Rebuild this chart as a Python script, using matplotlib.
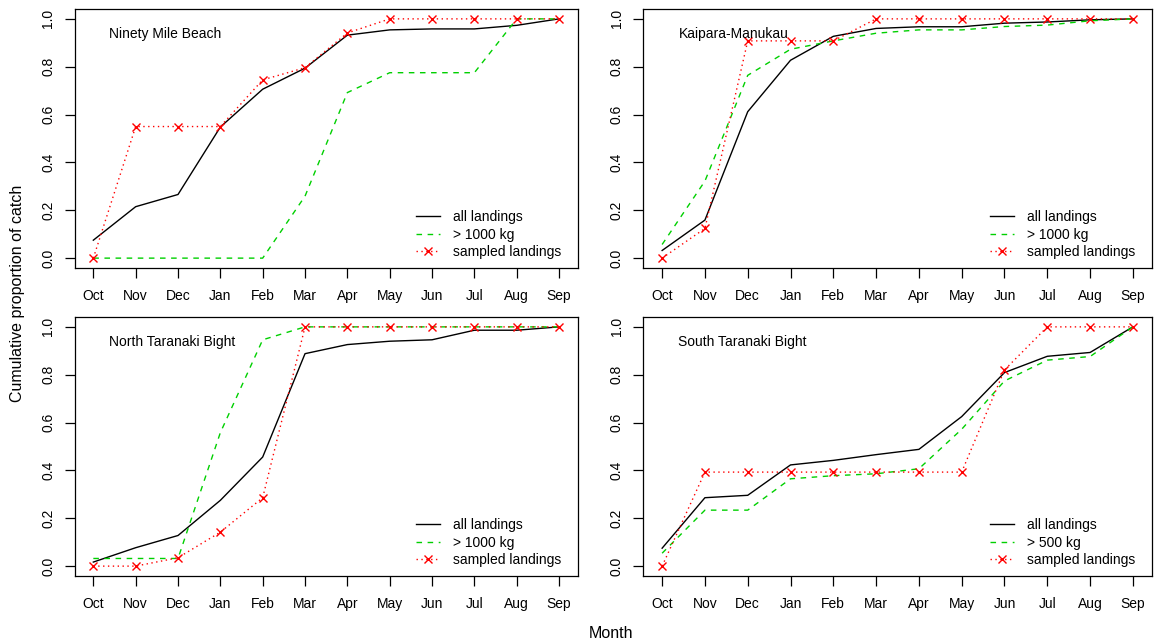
import matplotlib
matplotlib.use("Agg")
import matplotlib.pyplot as plt

plt.rcParams['font.family'] = ['Liberation Sans', 'DejaVu Sans']

months = ["Oct", "Nov", "Dec", "Jan", "Feb", "Mar", "Apr", "May", "Jun", "Jul", "Aug", "Sep"]
yticks = [0.0, 0.2, 0.4, 0.6, 0.8, 1.0]

# Ninety Mile Beach
nmb_all = [0.075, 0.215, 0.266, 0.548, 0.706, 0.794, 0.932, 0.954, 0.958, 0.958, 0.973, 1.0]
nmb_big = [0.0, 0.0, 0.0, 0.0, 0.0, 0.259, 0.692, 0.775, 0.775, 0.775, 1.0, 1.0]
nmb_smp = [0.0, 0.55, 0.55, 0.55, 0.745, 0.796, 0.941, 1.0, 1.0, 1.0, 1.0, 1.0]

# Kaipara-Manukau
km_all = [0.032, 0.159, 0.612, 0.827, 0.927, 0.960, 0.967, 0.967, 0.982, 0.987, 0.996, 1.0]
km_big = [0.057, 0.322, 0.764, 0.873, 0.908, 0.940, 0.954, 0.954, 0.968, 0.974, 0.992, 1.0]
km_smp = [0.0, 0.124, 0.908, 0.908, 0.908, 1.0, 1.0, 1.0, 1.0, 1.0, 1.0, 1.0]

# North Taranaki Bight
ntb_all = [0.017, 0.077, 0.128, 0.275, 0.456, 0.888, 0.926, 0.940, 0.946, 0.986, 0.986, 1.0]
ntb_big = [0.032, 0.032, 0.032, 0.558, 0.946, 1.0, 1.0, 1.0, 1.0, 1.0, 1.0, 1.0]
ntb_smp = [0.0, 0.0, 0.035, 0.142, 0.286, 1.0, 1.0, 1.0, 1.0, 1.0, 1.0, 1.0]

# South Taranaki Bight
stb_all = [0.075, 0.286, 0.296, 0.423, 0.442, 0.466, 0.488, 0.625, 0.809, 0.877, 0.893, 1.0]
stb_big = [0.054, 0.234, 0.234, 0.365, 0.378, 0.386, 0.407, 0.572, 0.774, 0.861, 0.876, 1.0]
stb_smp = [0.0, 0.393, 0.393, 0.393, 0.393, 0.393, 0.393, 0.393, 0.820, 1.0, 1.0, 1.0]

panels = [
    ("Ninety Mile Beach", nmb_all, nmb_big, nmb_smp, "> 1000 kg"),
    ("Kaipara-Manukau", km_all, km_big, km_smp, "> 1000 kg"),
    ("North Taranaki Bight", ntb_all, ntb_big, ntb_smp, "> 1000 kg"),
    ("South Taranaki Bight", stb_all, stb_big, stb_smp, "> 500 kg"),
]

W, H = 1165, 644
fig = plt.figure(figsize=(W / 100, H / 100), dpi=100)

# axes boxes in pixels: left, right, top, bottom
boxes = [
    (74.7, 577.7, 9.3, 267.7),
    (643.3, 1151.7, 9.3, 267.7),
    (74.7, 577.7, 317.3, 575.7),
    (643.3, 1151.7, 317.3, 575.7),
]

x = list(range(len(months)))
green = "#00d000"

for (title, a, b, s, biglab), (l, r, t, bt) in zip(panels, boxes):
    ax = fig.add_axes([l / W, 1 - bt / H, (r - l) / W, (bt - t) / H])
    ax.plot(x, a, color="black", lw=1.0, label="all landings")
    ax.plot(x, b, color=green, lw=1.0, ls=(0, (4, 4)), label=biglab)
    ax.plot(x, s, color="red", lw=1.0, ls=(0, (1, 2.5)), marker="x",
            ms=5.5, mew=1.0, label="sampled landings")
    ax.set_xlim(-0.44, 11.44)
    ax.set_ylim(-0.04, 1.04)
    ax.set_xticks(x)
    ax.set_xticklabels(months, fontsize=10)
    ax.set_yticks(yticks)
    ax.set_yticklabels([f"{v:.1f}" for v in yticks], fontsize=10,
                       rotation=90, va="center")
    ax.tick_params(direction="out", length=7, width=0.9, color="black")
    ax.tick_params(axis="x", pad=8)
    ax.tick_params(axis="y", pad=7)
    for sp in ax.spines.values():
        sp.set_linewidth(0.9)
    ax.text(0.069, 0.905, title, transform=ax.transAxes, fontsize=10,
            ha="left", va="center")
    ax.legend(loc="lower right", bbox_to_anchor=(0.978, 0.012), frameon=False,
              fontsize=10, handlelength=1.75, handletextpad=0.9,
              labelspacing=0.25, borderaxespad=0)

fig.text(18 / W, 1 - 293 / H, "Cumulative proportion of catch", rotation=90,
         fontsize=11.5, ha="center", va="center")
fig.text(611 / W, 1 - 633 / H, "Month", fontsize=11.5, ha="center", va="center")

fig.savefig("out.png", dpi=100)
